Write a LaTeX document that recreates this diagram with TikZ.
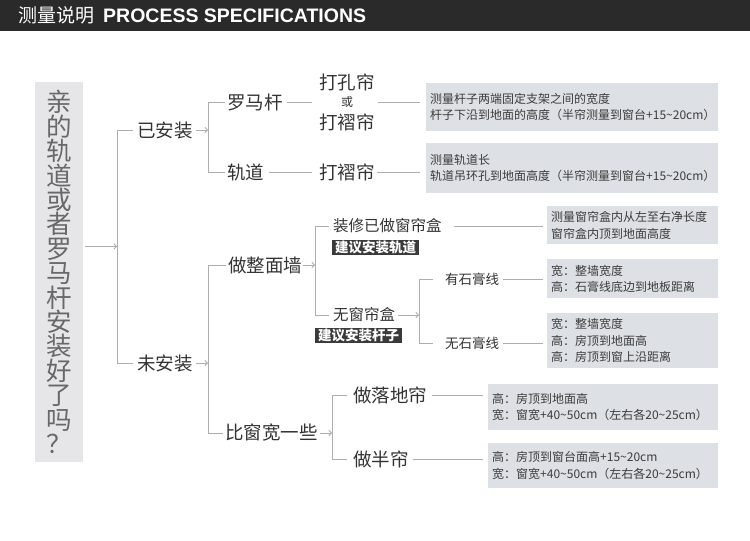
\documentclass[tikz,border=0pt]{standalone}
\usepackage{fontspec}
\setmainfont{Noto Sans CJK SC}
\newfontfamily\hdfont{Liberation Sans}
\usetikzlibrary{arrows.meta,calc}
\definecolor{hdbg}{HTML}{2A2A2A}
\definecolor{rootbg}{HTML}{E6E6E8}
\definecolor{roottxt}{HTML}{686868}
\definecolor{boxbg}{HTML}{DDE0E5}
\definecolor{infotxt}{HTML}{3C3C3C}
\definecolor{lbltxt}{HTML}{333333}
\definecolor{linegray}{HTML}{AEAEAE}
\definecolor{tagbg}{HTML}{3A3A3A}
\begin{document}
\begin{tikzpicture}[x=1pt,y=-1pt,
  lbl/.style={inner sep=0pt, anchor=west, text=lbltxt, font=\fontsize{18.5}{18.5}\selectfont},
  midl/.style={inner sep=0pt, anchor=west, text=lbltxt, font=\fontsize{15.5}{15.5}\selectfont},
  sml/.style={inner sep=0pt, anchor=west, text=lbltxt, font=\fontsize{13.5}{13.5}\selectfont},
  info/.style n args={2}{fill=boxbg, text=infotxt, font=\fontsize{12}{16.5}\selectfont,
     align=left, inner xsep=4pt, inner ysep=0pt, anchor=north west, text width=#1, minimum height=#2},
  tagbox/.style={fill=tagbg, text=white, font=\bfseries\fontsize{13.5}{13.5}\selectfont,
     inner xsep=3pt, inner ysep=0pt, minimum height=15.5pt},
  conn/.style={draw=linegray, line width=0.9pt},
  arr/.style={conn, -{Straight Barb[length=2.5pt,width=5.5pt]}}
]
\useasboundingbox (0,0) rectangle (750,541);
\fill[white] (0,0) rectangle (750,541);
% header
\fill[hdbg] (0,0) rectangle (750,31);
\node[anchor=west, text=white, inner sep=0pt, font=\fontsize{19}{19}\selectfont] (hdcn) at (18,15.5) {测量说明};
\node[anchor=west, text=white, inner sep=0pt, font=\hdfont\bfseries\fontsize{19.5}{19.5}\selectfont] (hden) at (103,15.5) {PROCESS SPECIFICATIONS};

% root question box
\node[fill=rootbg, text=roottxt, minimum width=48pt, minimum height=380pt, inner sep=0pt,
      align=center, font=\fontsize{25.5}{24.4}\selectfont] (root) at (59,272)
  {亲\\的\\轨\\道\\或\\者\\罗\\马\\杆\\安\\装\\好\\了\\吗\\？};

% level 1
\node[lbl] (yaz) at (137,130) {已安装};
\node[lbl] (waz) at (137,363) {未安装};

% 已安装 branch
\node[lbl] (lmg) at (227,102) {罗马杆};
\node[lbl] (gd) at (227,172) {轨道};
\node[lbl, anchor=center] (dk1) at (347,82) {打孔帘};
\node[inner sep=0pt, text=lbltxt, font=\fontsize{12}{12}\selectfont] (huo) at (347,102) {或};
\node[lbl, anchor=center] (dk2) at (347,122) {打褶帘};
\node[lbl, anchor=center] (dzl) at (347,172) {打褶帘};
\node[info={284pt}{48pt}] (b1) at (426,83) {测量杆子两端固定支架之间的宽度\\杆子下沿到地面的高度（半帘测量到窗台+15\textasciitilde20cm）};
\node[info={284pt}{50pt}] (b2) at (426,143) {测量轨道长\\轨道吊环孔到地面高度（半帘测量到窗台+15\textasciitilde20cm）};

% 未安装 branch
\node[lbl] (zzm) at (228,265) {做整面墙};
\node[lbl] (bck) at (225,433) {比窗宽一些};
\node[midl] (zxh) at (333,226) {装修已做窗帘盒};
\node[tagbox] (t1) at (375.5,247.5) {建议安装轨道};
\node[midl] (wch) at (333,315) {无窗帘盒};
\node[tagbox] (t2) at (358.5,335.5) {建议安装杆子};
\node[sml] (ysg) at (445,279) {有石膏线};
\node[sml] (wsg) at (445,343) {无石膏线};
\node[info={163pt}{38pt}] (b3) at (547,206) {测量窗帘盒内从左至右净长度\\窗帘盒内顶到地面高度};
\node[info={163pt}{39pt}] (b4) at (547,259) {宽：整墙宽度\\高：石膏线底边到地板距离};
\node[info={163pt}{55pt}] (b5) at (547,313) {宽：整墙宽度\\高：房顶到地面高\\高：房顶到窗上沿距离};
\node[lbl] (zld) at (353,395) {做落地帘};
\node[lbl] (zbl) at (353,459) {做半帘};
\node[info={222pt}{46pt}] (b6) at (488,384) {高：房顶到地面高\\宽：窗宽+40\textasciitilde50cm（左右各20\textasciitilde25cm）};
\node[info={222pt}{45pt}] (b7) at (488,443) {高：房顶到窗台面高+15\textasciitilde20cm\\宽：窗宽+40\textasciitilde50cm（左右各20\textasciitilde25cm）};

% connectors: root
\coordinate (v0) at (117,0);
\draw[conn] ([xshift=-4pt]yaz.west) -- (yaz.west -| v0) -- (waz.west -| v0) -- ([xshift=-4pt]waz.west);
\coordinate (m0) at ($(yaz.west -| v0)!0.5!(waz.west -| v0)$);
\draw[arr] ($(root.east |- m0)+(2,0)$) -- (m0);

% 已安装
\coordinate (v1) at (208,0);
\draw[arr] ([xshift=3pt]yaz.east) -- (yaz.east -| v1);
\draw[conn] ([xshift=-2pt]lmg.west) -- (lmg.west -| v1) -- (gd.west -| v1) -- ([xshift=-2pt]gd.west);
\draw[conn, shorten <=4pt, shorten >=7pt] (lmg.east) -- (lmg.east -| dk1.west);
\draw[conn, shorten <=3pt, shorten >=6pt] (dk1.east |- huo) -- (b1.west |- huo);
\draw[conn, shorten <=5pt, shorten >=7pt] (gd.east) -- (dzl.west);
\draw[conn, shorten <=2pt, shorten >=6pt] (dzl.east) -- (b2.west |- dzl);

% 未安装
\draw[arr] ([xshift=3pt]waz.east) -- (waz.east -| v1);
\draw[conn] ([xshift=-2pt]zzm.west) -- (zzm.west -| v1) -- (bck.west -| v1) -- ([xshift=-2pt]bck.west);

% 做整面墙
\coordinate (v2) at (315,0);
\draw[arr] ([xshift=1pt]zzm.east) -- (zzm.east -| v2);
\draw[conn] ([xshift=-4pt]zxh.west) -- (zxh.west -| v2) -- (wch.west -| v2) -- ([xshift=-4pt]wch.west);
\draw[conn, shorten <=12pt, shorten >=4pt] (zxh.east) -- (b3.west |- zxh);

% 无窗帘盒
\coordinate (v3) at (419,0);
\draw[arr] ([xshift=3pt]wch.east) -- (wch.east -| v3);
\draw[conn] ([xshift=-12pt]ysg.west) -- (ysg.west -| v3) -- (wsg.west -| v3) -- ([xshift=-12pt]wsg.west);
\draw[conn, shorten <=4pt, shorten >=4pt] (ysg.east) -- (b4.west |- ysg);
\draw[conn, shorten <=4pt, shorten >=4pt] (wsg.east) -- (b5.west |- wsg);

% 比窗宽一些
\coordinate (v4) at (332,0);
\draw[arr] ([xshift=2pt]bck.east) -- (bck.east -| v4);
\draw[conn] ([xshift=-6pt]zld.west) -- (zld.west -| v4) -- (zbl.west -| v4) -- ([xshift=-6pt]zbl.west);
\draw[conn, shorten <=5pt, shorten >=5pt] (zld.east) -- (b6.west |- zld);
\draw[conn, shorten <=4pt, shorten >=5pt] (zbl.east) -- (b7.west |- zbl);
\end{tikzpicture}
\end{document}
